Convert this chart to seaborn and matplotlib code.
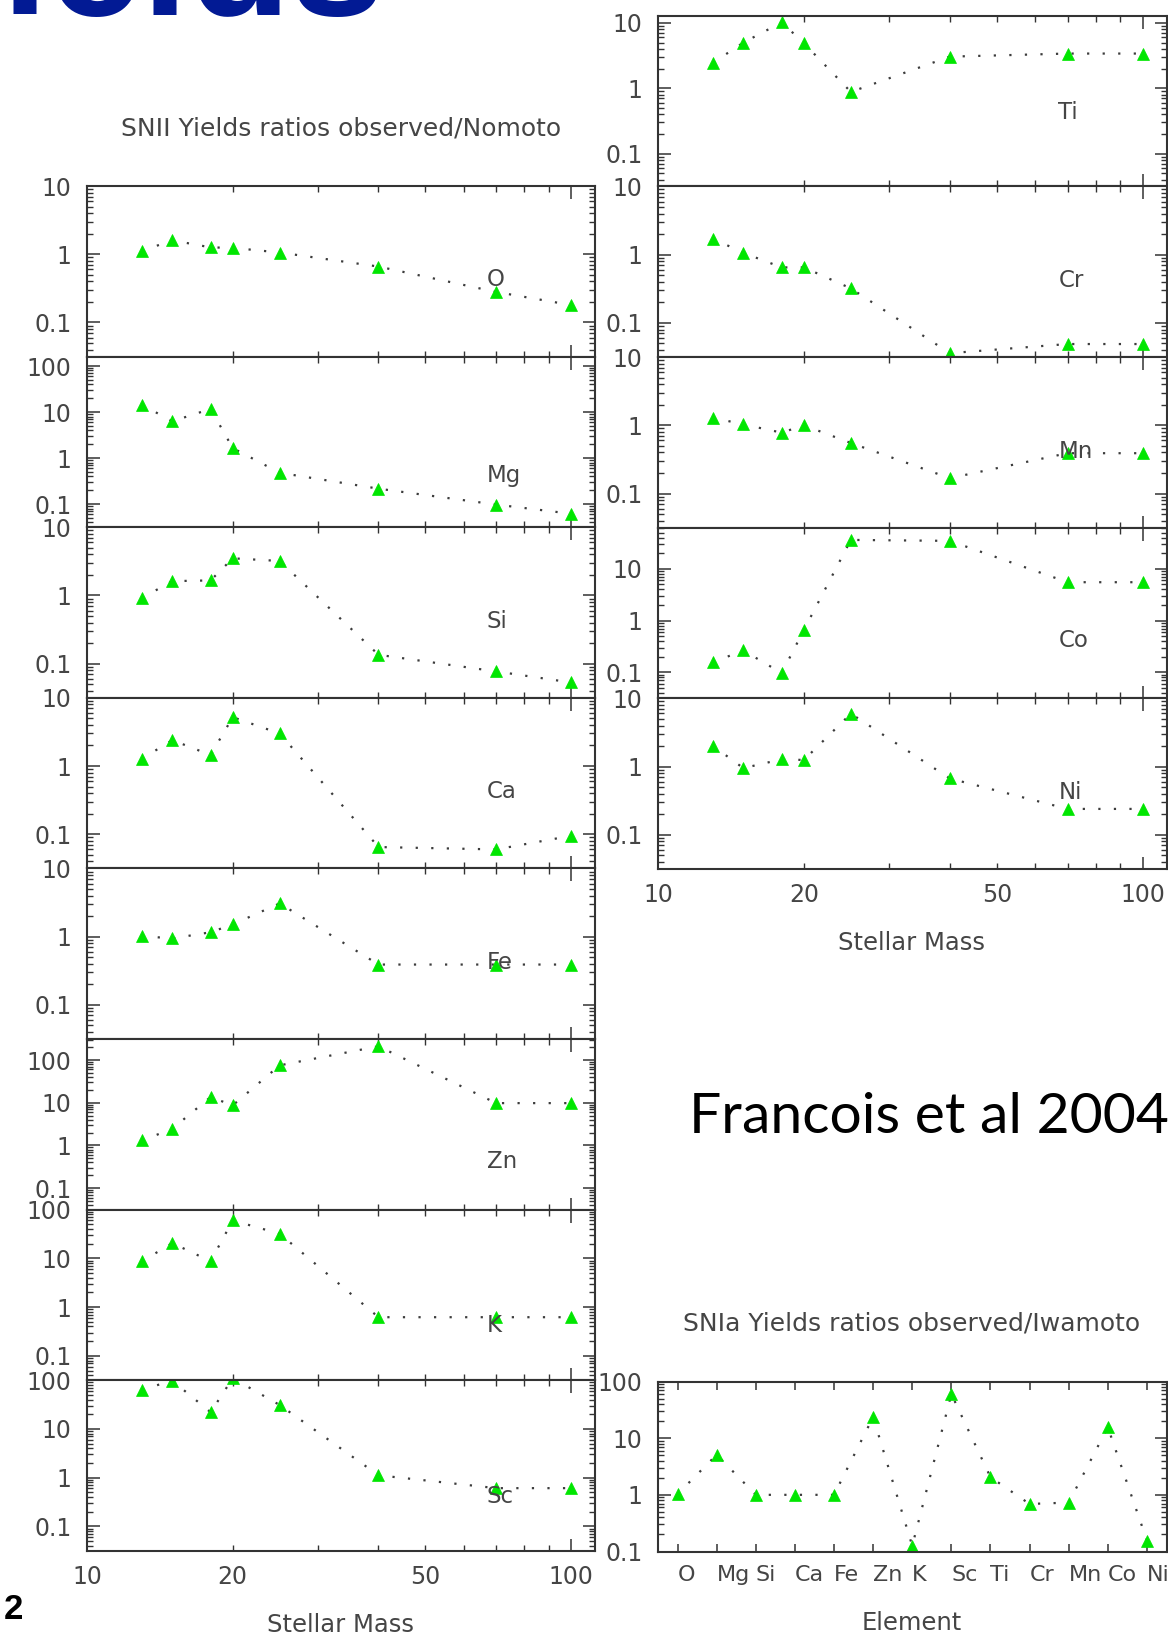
import matplotlib
matplotlib.use("Agg")
import matplotlib.pyplot as plt
import seaborn as sns
from matplotlib.ticker import FixedLocator, FuncFormatter, NullFormatter, LogLocator

# ---------------- data ----------------
mass = [13, 15, 18, 20, 25, 40, 70, 100]

O_ratio  = [1.12, 1.6, 1.26, 1.24, 1.06, 0.66, 0.28, 0.18]
Mg_ratio = [14.3, 6.3, 11.7, 1.65, 0.48, 0.217, 0.098, 0.062]
Si_ratio = [0.92, 1.62, 1.66, 3.5, 3.2, 0.135, 0.077, 0.053]
Ca_ratio = [1.28, 2.4, 1.45, 5.2, 3.0, 0.065, 0.060, 0.095]
Fe_ratio = [1.02, 0.94, 1.16, 1.51, 3.07, 0.39, 0.39, 0.39]
Zn_ratio = [1.31, 2.46, 13.6, 8.7, 75, 209, 9.8, 9.8]
K_ratio  = [8.7, 20.6, 8.7, 60, 32, 0.62, 0.62, 0.62]
Sc_ratio = [64, 98, 22, 110, 31, 1.12, 0.61, 0.61]
Ti_ratio = [2.47, 5.0, 10.2, 4.9, 0.88, 3.05, 3.4, 3.4]
Cr_ratio = [1.71, 1.06, 0.65, 0.65, 0.32, 0.036, 0.049, 0.049]
Mn_ratio = [1.29, 1.03, 0.78, 1.0, 0.55, 0.168, 0.39, 0.39]
Co_ratio = [0.158, 0.265, 0.097, 0.66, 36, 34.5, 5.5, 5.5]
Ni_ratio = [2.0, 0.95, 1.28, 1.25, 5.97, 0.67, 0.24, 0.24]

left_names = ["O", "Mg", "Si", "Ca", "Fe", "Zn", "K", "Sc"]
left_values = [O_ratio, Mg_ratio, Si_ratio, Ca_ratio, Fe_ratio, Zn_ratio, K_ratio, Sc_ratio]
left_ytop = [10, 160, 10, 10, 10, 310, 100, 100]

right_names = ["Ti", "Cr", "Mn", "Co", "Ni"]
right_values = [Ti_ratio, Cr_ratio, Mn_ratio, Co_ratio, Ni_ratio]
right_ytop = [12.9, 10, 10, 62, 10]

snia_elements = ["O", "Mg", "Si", "Ca", "Fe", "Zn", "K", "Sc", "Ti", "Cr", "Mn", "Co", "Ni"]
snia_ratio = [1.03, 5.1, 1.0, 1.0, 1.0, 23.5, 0.126, 60, 2.05, 0.69, 0.73, 15.6, 0.156]

mass_ticks_major = [10, 100]
mass_ticks_minor = [20, 30, 40, 50, 60, 70, 80, 90]
mass_tick_labels = {10: "10", 20: "20", 50: "50", 100: "100"}

# ---------------- style ----------------
sns.set_theme(style="white")
plt.rcParams["font.family"] = ["DejaVu Sans"]

W, H = 1168, 1635
fig = plt.figure(figsize=(W / 100, H / 100), dpi=100)
fig.patch.set_facecolor("white")

GREEN = "#00e600"
LINEC = "#3c3c3c"
TEXTC = "#454545"
AXC = "#333333"
YBOT = 10 ** -1.5


def rect(x0, y0, x1, y1):
    return [x0 / W, 1 - y1 / H, (x1 - x0) / W, (y1 - y0) / H]


def style_axes(ax):
    for s in ax.spines.values():
        s.set_color(AXC)
        s.set_linewidth(1.5)
    ax.tick_params(which="both", direction="in", top=True, right=True,
                   bottom=True, left=True, colors=AXC, labelcolor=TEXTC,
                   labelsize=17)
    ax.tick_params(which="major", length=9, width=1.1)
    ax.tick_params(which="minor", length=4.5, width=1.0)
    ax.tick_params(axis="y", which="both", pad=11)
    ax.tick_params(axis="x", which="both", pad=10)
    ax.grid(False)


def log_y(ax):
    ax.yaxis.set_major_locator(LogLocator(base=10, numticks=20))
    ax.yaxis.set_minor_locator(LogLocator(base=10, subs=range(2, 10), numticks=50))
    ax.yaxis.set_major_formatter(FuncFormatter(lambda v, p: "%g" % v))
    ax.yaxis.set_minor_formatter(NullFormatter())


def mass_panel(ax, name, vals, ytop, show_xlabels):
    ax.set_xscale("log")
    ax.set_yscale("log")
    sns.lineplot(x=mass, y=vals, ax=ax, color=LINEC, linestyle=(0, (1, 6)),
                 linewidth=1.6, marker="^", markersize=8,
                 markerfacecolor=GREEN, markeredgecolor=GREEN,
                 markeredgewidth=0.5, legend=False)
    ax.set_xlim(10, 112)
    ax.set_ylim(YBOT, ytop)
    ax.xaxis.set_major_locator(FixedLocator(mass_ticks_major))
    ax.xaxis.set_minor_locator(FixedLocator(mass_ticks_minor))
    if show_xlabels:
        f = FuncFormatter(lambda v, p: mass_tick_labels.get(int(round(v)), ""))
        ax.xaxis.set_major_formatter(f)
        ax.xaxis.set_minor_formatter(f)
    else:
        ax.xaxis.set_major_formatter(NullFormatter())
        ax.xaxis.set_minor_formatter(NullFormatter())
    log_y(ax)
    ax.set_xlabel("")
    ax.set_ylabel("")
    style_axes(ax)
    ax.text(67, 0.42, name, ha="left", va="center", fontsize=16.5, color=TEXTC)


# left column
LX0, LX1 = 87, 595
LTOP, PH = 186, 170.6
for i, (nm, v, yt) in enumerate(zip(left_names, left_values, left_ytop)):
    ax = fig.add_axes(rect(LX0, LTOP + i * PH, LX1, LTOP + (i + 1) * PH))
    mass_panel(ax, nm, v, yt, i == len(left_names) - 1)

# right column
RX0, RX1 = 658, 1166.5
RTOP, RPH = 15.7, 170.66
for i, (nm, v, yt) in enumerate(zip(right_names, right_values, right_ytop)):
    ax = fig.add_axes(rect(RX0, RTOP + i * RPH, RX1, RTOP + (i + 1) * RPH))
    mass_panel(ax, nm, v, yt, i == len(right_names) - 1)

# SNIa panel
ax = fig.add_axes(rect(RX0, 1381.5, RX1, 1551.5))
ax.set_yscale("log")
sns.lineplot(x=snia_elements, y=snia_ratio, ax=ax, sort=False, color=LINEC,
             linestyle=(0, (1, 6)), linewidth=1.6, marker="^", markersize=8,
             markerfacecolor=GREEN, markeredgecolor=GREEN, markeredgewidth=0.5,
             legend=False)
ax.set_xlim(-0.5, len(snia_elements) - 0.5)
ax.set_ylim(0.1, 100)
ax.set_xticks(range(len(snia_elements)))
ax.set_xticklabels(snia_elements)
log_y(ax)
ax.set_xlabel("")
ax.set_ylabel("")
style_axes(ax)
ax.tick_params(axis="x", which="major", length=6, labelsize=16)
for lab in ax.get_xticklabels():
    lab.set_ha("left")

# ---------------- texts ----------------
def ftext(x, y, s, **kw):
    fig.text(x / W, 1 - y / H, s, **kw)

ftext(341, 128, "SNII Yields ratios observed/Nomoto", ha="center", va="center",
      fontsize=18, color=TEXTC)
ftext(341, 1625, "Stellar Mass", ha="center", va="center", fontsize=17.5, color=TEXTC)
ftext(912, 943, "Stellar Mass", ha="center", va="center", fontsize=17.5, color=TEXTC)
ftext(912, 1323, "SNIa Yields ratios observed/Iwamoto", ha="center", va="center",
      fontsize=18, color=TEXTC)
ftext(912, 1623, "Element", ha="center", va="center", fontsize=17.5, color=TEXTC)

ftext(689, 1133, "Francois et al 2004", ha="left", va="baseline", fontsize=41,
      color="black", family=["Lato", "DejaVu Sans"])
ftext(384, 15, "Yields", ha="right", va="baseline", fontsize=121, fontweight="bold",
      color="#021a94", family=["Liberation Sans", "DejaVu Sans"])
ftext(4, 1609, "2", ha="left", va="center", fontsize=25, fontweight="bold",
      color="black", family=["Liberation Sans", "DejaVu Sans"])

fig.savefig("out.png", dpi=100, facecolor="white")
